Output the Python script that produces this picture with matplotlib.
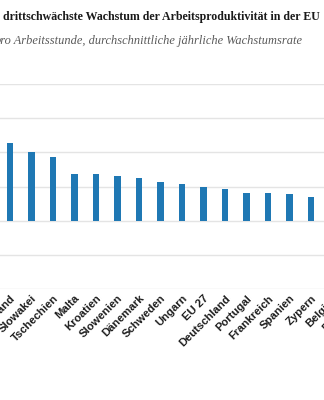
import matplotlib.pyplot as plt
import numpy as np

# visible part of the chart (cut on both sides in the original)
laender = ["Lettland", "Slowakei", "Tschechien", "Malta", "Kroatien", "Slowenien",
           "Dänemark", "Schweden", "Ungarn", "EU 27", "Deutschland", "Portugal",
           "Frankreich", "Spanien", "Zypern", "Belgien", "Finnland"]
wachstum = [2.26, 2.0, 1.86, 1.36, 1.36, 1.30, 1.26, 1.13, 1.06, 0.99, 0.93,
            0.82, 0.80, 0.78, 0.69, 0.60, 0.55]
yticks = [-2, -1, 0, 1, 2, 3, 4]

W, H = 324, 400
fig = plt.figure(figsize=(W / 100, H / 100), dpi=100)
fig.patch.set_facecolor("white")

# axes in pixel coordinates, wider than the figure so it gets cut
left_px, right_px = 0, 390
bottom_px, top_px = 289, 84
ax = fig.add_axes([left_px / W, (H - bottom_px) / H,
                   (right_px - left_px) / W, (bottom_px - top_px) / H])

x = np.arange(len(laender))
ax.bar(x, wachstum, width=0.31, color="#1f78b4", zorder=3)

step = 21.5
ax.set_xlim(-10 / step, (right_px - 10) / step)
ax.set_ylim(-2, 4)
ax.set_yticks(yticks)
ax.set_yticklabels([])
ax.grid(axis="y", color="#e4e4e4", linewidth=1.0, zorder=0)
ax.tick_params(length=0)
for s in ax.spines.values():
    s.set_visible(False)

ax.set_xticks(x)
ax.set_xticklabels(laender, rotation=45, ha="right", va="top",
                   rotation_mode="anchor", fontsize=8.1, fontweight="bold",
                   family="Liberation Sans", color="#1e1e1e")
ax.tick_params(axis="x", pad=3)

fig.text(3 / W, 1 - 17 / H,
         "drittschwächste Wachstum der Arbeitsproduktivität in der EU",
         ha="left", va="center", fontsize=8.6, fontweight="bold",
         family="Liberation Serif", color="#1a1a1a")
fig.text(-5.5 / W, 1 - 41 / H,
         "pro Arbeitsstunde, durchschnittliche jährliche Wachstumsrate",
         ha="left", va="center", fontsize=8.9, style="italic",
         family="Liberation Serif", color="#5a5a5a")

fig.savefig("out.png", dpi=100)
